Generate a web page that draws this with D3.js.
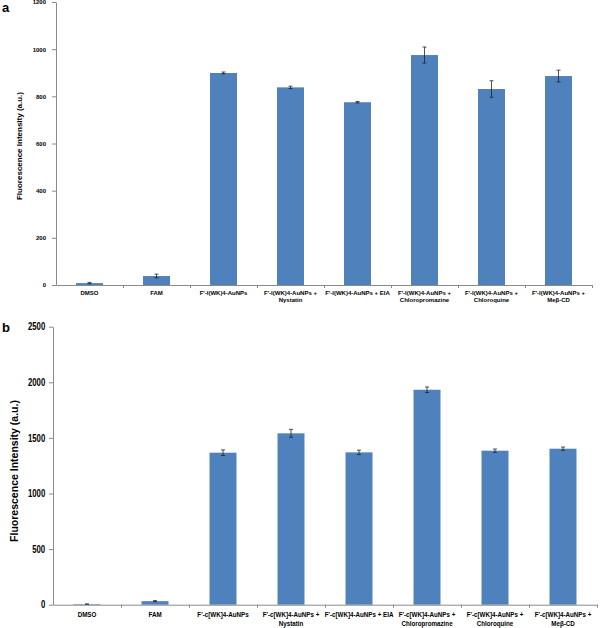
<!DOCTYPE html>
<html><head><meta charset="utf-8">
<script src="https://cdn.jsdelivr.net/npm/d3@7/dist/d3.min.js"></script>
<style>body{margin:0;background:#fff}</style>
</head><body>
<svg id="c" width="600" height="628"></svg>
<script>
// Panel a data
const catsA = [["DMSO"],["FAM"],["F'-l(WK)4-AuNPs"],["F'-l(WK)4-AuNPs  +","Nystatin"],["F'-l(WK)4-AuNPs  + EIA"],["F'-l(WK)4-AuNPs  +","Chloropromazine"],["F'-l(WK)4-AuNPs  +","Chloroquine"],["F'-l(WK)4-AuNPs  +","Meβ-CD"]];
const valsA = [8, 38, 899, 838, 775, 975, 831, 886];
const errA  = [3, 8, 4, 5, 3, 34, 35, 25];
const ticksA = [0, 200, 400, 600, 800, 1000, 1200];
// Panel b data
const catsB = [["DMSO"],["FAM"],["F'-c[WK]4-AuNPs"],["F'-c[WK]4-AuNPs  +","Nystatin"],["F'-c[WK]4-AuNPs  + EIA"],["F'-c[WK]4-AuNPs  +","Chloropromazine"],["F'-c[WK]4-AuNPs  +","Chloroquine"],["F'-c[WK]4-AuNPs  +","Meβ-CD"]];
const valsB = [5, 32, 1367, 1541, 1370, 1933, 1385, 1403];
const errB  = [2, 5, 25, 36, 20, 25, 15, 15];
const ticksB = [0, 500, 1000, 1500, 2000, 2500];

const svg = d3.select("#c");
const blue = "#4F81BD";
const FONT = "Liberation Sans, Arial, sans-serif";

function panel(o){
  const g = svg.append("g");
  const xb = d3.scaleLinear().domain([0, o.cats.length]).range([o.x0, o.x1]);
  const y = d3.scaleLinear().domain([0, o.ymax]).range([o.y0, o.y1]);
  // bars
  g.selectAll("rect.bar").data(o.vals).join("rect")
    .attr("x",(d,i)=>xb(i+0.5)-o.bw/2).attr("width",o.bw)
    .attr("y",d=>y(d)).attr("height",d=>o.y0-y(d)).attr("fill",blue);
  // error bars
  const eg = g.append("g").attr("stroke","#222").attr("stroke-width",0.8);
  o.vals.forEach((v,i)=>{
    const cx = xb(i+0.5), e=o.err[i];
    eg.append("line").attr("x1",cx).attr("x2",cx).attr("y1",y(v+e)).attr("y2",y(Math.max(0,v-e)));
    eg.append("line").attr("x1",cx-2).attr("x2",cx+2).attr("y1",y(v+e)).attr("y2",y(v+e));
    eg.append("line").attr("x1",cx-2).attr("x2",cx+2).attr("y1",y(Math.max(0,v-e))).attr("y2",y(Math.max(0,v-e)));
  });
  // y axis
  const ya = g.append("g").attr("transform",`translate(${o.x0},0)`)
    .call(d3.axisLeft(y).tickValues(o.ticks).tickSize(4).tickSizeOuter(0).tickPadding(o.tpad).tickFormat(d3.format("d")));
  ya.selectAll("path,line").attr("stroke","#8a8a8a");
  ya.selectAll("text").attr("font-family",FONT).attr("font-weight","bold").attr("font-size",o.tfs).attr("fill","#000")
    .attr("transform",`scale(${o.sx},1)`);
  // x axis
  const xa = g.append("g").attr("transform",`translate(0,${o.y0})`)
    .call(d3.axisBottom(xb).tickValues(d3.range(o.cats.length+1)).tickSize(3).tickSizeOuter(0).tickFormat(""));
  xa.selectAll("path,line").attr("stroke","#8a8a8a");
  xa.select(".tick").remove();
  // category labels
  o.cats.forEach((lines,i)=>{
    const t = g.append("text").attr("transform",`translate(${xb(i+0.5)},${o.y0+o.ly}) scale(${o.sx},1)`).attr("text-anchor","middle")
      .attr("font-family",FONT).attr("font-weight","bold").attr("font-size",o.cfs);
    lines.forEach((s,j)=>t.append("tspan").attr("x",0).attr("dy",j?o.lh:0).text(s));
  });
  // y label
  g.append("text").attr("transform",`translate(${o.ylx},${o.yly}) rotate(-90)`).attr("text-anchor","middle")
    .attr("font-family",FONT).attr("font-weight","bold").attr("font-size",o.yfs)
    .text("Fluorescence Intensity (a.u.)");
  // panel letter
  g.append("text").attr("x",o.px).attr("y",o.py).attr("font-family",FONT)
    .attr("font-weight","bold").attr("font-size",13).text(o.letter);
}

panel({cats:catsA, vals:valsA, err:errA, ticks:ticksA, ymax:1200, x0:56, x1:592, y0:285, y1:2, bw:27,
  tfs:6, tpad:6, sx:1, cfs:6, ly:10, lh:7,
  ylx:22, yly:146, yfs:8, letter:"a", px:2, py:12});
panel({cats:catsB, vals:valsB, err:errB, ticks:ticksB, ymax:2500, x0:53, x1:597, y0:604.7, y1:326.7, bw:27,
  tfs:10, tpad:6, sx:0.78, cfs:8, ly:12, lh:9.5,
  ylx:18, yly:471, yfs:10.5, letter:"b", px:2, py:332});
</script>
</body></html>
